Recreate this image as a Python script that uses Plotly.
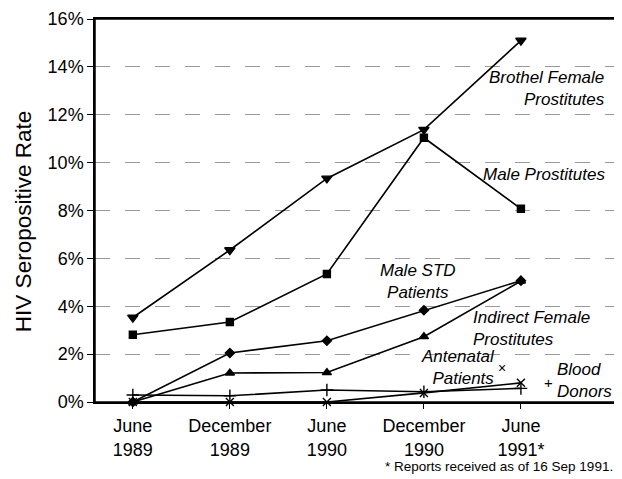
import plotly.graph_objects as go

# Reporting periods (x categories)
perioder = ["June<br>1989", "December<br>1989", "June<br>1990", "December<br>1990", "June<br>1991*"]

# HIV seropositive rate (%) per group
bordell_kvinner = [3.53, 6.35, 9.34, 11.38, 15.1]
mannlige_prostituerte = [2.81, 3.34, 5.35, 11.04, 8.07]
mannlige_std = [0.0, 2.05, 2.56, 3.83, 5.07]
indirekte_kvinner = [0.0, 1.21, 1.23, 2.73, 5.05]
svangerskap = [0.0, 0.0, 0.0, 0.38, 0.8]
blodgivere = [0.29, 0.26, 0.5, 0.43, 0.57]

y_ticks = [0, 2, 4, 6, 8, 10, 12, 14, 16]
y_ticktext = [f"{v}%" for v in y_ticks]

FONT = "Liberation Sans, Arial, sans-serif"

serier = [
    (bordell_kvinner, "triangle-down", 9),
    (mannlige_prostituerte, "square", 7),
    (mannlige_std, "diamond", 7),
    (indirekte_kvinner, "triangle-up", 8),
    (svangerskap, "x-thin", 8),
    (blodgivere, "cross-thin", 9),
]

fig = go.Figure()
for verdier, symbol, size in serier:
    fig.add_trace(
        go.Scatter(
            x=list(range(len(perioder))),
            y=verdier,
            mode="lines+markers",
            line=dict(color="black", width=1.6),
            marker=dict(symbol=symbol, size=size, color="black",
                        line=dict(color="black", width=1.4)),
            showlegend=False,
            cliponaxis=False,
        )
    )

etiketter = [
    (4.89, 13.08, "Brothel Female<br>Prostitutes", "right"),
    (4.89, 9.51, "Male Prostitutes", "right"),
    (2.94, 5.04, "Male STD<br>Patients", "center"),
    (3.49, 3.08, "Indirect Female<br>Prostitutes", "left"),
    (3.75, 1.43, "Antenatal<br>Patients", "right"),
    (4.35, 0.89, "Blood<br>Donors", "left"),
]
for x, y, tekst, anker in etiketter:
    fig.add_annotation(
        x=x, y=y, xref="x", yref="y", text="<i>" + tekst + "</i>",
        showarrow=False, xanchor=anker, yanchor="middle", align=anker,
        font=dict(family=FONT, size=17, color="black"),
    )

# small legend symbols next to labels
fig.add_annotation(x=3.81, y=1.41, text="×", showarrow=False,
                   font=dict(family=FONT, size=14, color="black"))
fig.add_annotation(x=4.28, y=0.83, text="+", showarrow=False,
                   font=dict(family=FONT, size=15, color="black"))

# y axis title
fig.add_annotation(
    x=-0.136, y=0.47, xref="paper", yref="paper", textangle=-90,
    xanchor="center", yanchor="middle", showarrow=False,
    text="HIV Seropositive Rate",
    font=dict(family=FONT, size=22.5, color="black"),
)

fig.add_annotation(
    x=0.998, y=-0.168, xref="paper", yref="paper", xanchor="right", yanchor="middle",
    text="* Reports received as of 16 Sep 1991.", showarrow=False,
    font=dict(family=FONT, size=13.5, color="black"),
)

# frame round the plot area
fig.add_shape(type="rect", xref="paper", yref="paper", x0=0, x1=1, y0=0, y1=1,
              line=dict(color="black", width=1.5), layer="above")

# page body has an 8px margin, so the figure is 8px smaller and margins shifted
fig.update_layout(
    width=614,
    height=471,
    margin=dict(l=87, r=6, t=11, b=77, autoexpand=False),
    paper_bgcolor="white",
    plot_bgcolor="white",
    font=dict(family=FONT, color="black"),
)
fig.update_xaxes(
    tickmode="array",
    tickvals=list(range(len(perioder))),
    ticktext=perioder,
    range=[-0.39, 4.98],
    automargin=False,
    showline=True, linecolor="black", linewidth=1.5, mirror=True,
    ticks="outside", ticklen=5, tickcolor="black",
    ticklabelstandoff=2,
    ticklabeloverflow="allow",
    showgrid=False, zeroline=False,
    tickfont=dict(family=FONT, size=18, color="black"),
)
fig.update_yaxes(
    tickmode="array",
    tickvals=y_ticks,
    ticktext=y_ticktext,
    range=[0, 16],
    automargin=False,
    showline=True, linecolor="black", linewidth=1.5, mirror=True,
    ticks="outside", ticklen=6, tickcolor="black",
    ticklabeloverflow="allow",
    showgrid=True, gridcolor="#999999", gridwidth=1, griddash="longdash",
    zeroline=False,
    tickfont=dict(family=FONT, size=18, color="black"),
)

fig.write_html("out.html")
